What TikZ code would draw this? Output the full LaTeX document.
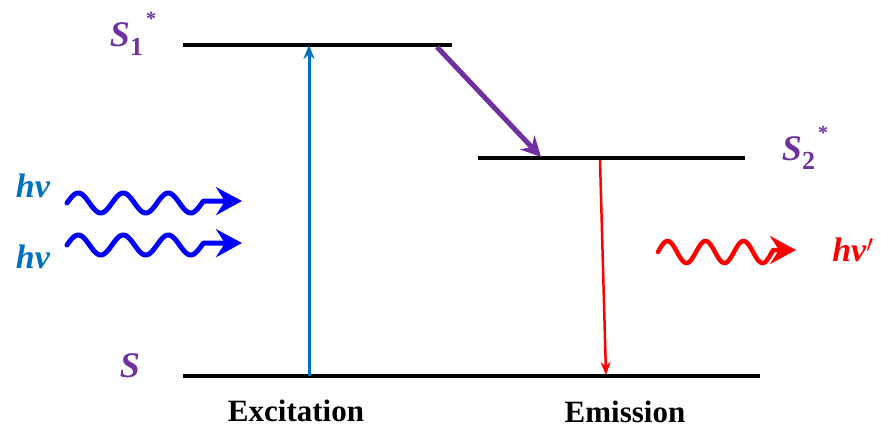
\documentclass[tikz,border=0pt]{standalone}
\usepackage{fontspec}
\setmainfont{Liberation Serif}
\usetikzlibrary{arrows.meta}
\definecolor{levpurple}{RGB}{112,48,160}
\definecolor{exblue}{RGB}{0,112,192}
\definecolor{waveblue}{RGB}{0,0,255}
\definecolor{emred}{RGB}{255,0,0}
\tikzset{
  level/.style={line width=3.2pt, black},
  statelabel/.style={text=levpurple, font=\fontsize{36}{36}\selectfont\bfseries\itshape, inner sep=0pt},
  hvlabel/.style={font=\fontsize{34}{34}\selectfont\bfseries\itshape, inner sep=0pt},
  caption/.style={font=\fontsize{31}{31}\selectfont\bfseries, inner sep=0pt},
  wave/.style={line width=5pt, line cap=round, line join=round, -{Stealth[length=26pt,width=28pt,inset=9pt]}},
}
\begin{document}
\begin{tikzpicture}[x=1pt,y=-1pt]
\useasboundingbox (0,0) rectangle (881,429);
% levels
\coordinate (s1l) at (183,45);
\coordinate (s1r) at (452,45);
\coordinate (s2l) at (478,158);
\coordinate (s2r) at (745,158);
\coordinate (s0l) at (183,376);
\coordinate (s0r) at (760,376);
\draw[level] (s1l) -- (s1r);
\draw[level] (s2l) -- (s2r);
\draw[level, line width=4.2pt] (s0l) -- (s0r);
% labels
\node[statelabel] (S1) at (133,34) {S\raisebox{-0.25em}{\fontsize{26}{26}\selectfont\upshape 1}\hspace{3pt}\raisebox{0.6em}{\fontsize{20}{20}\selectfont\upshape *}};
\node[statelabel] (S2) at (805,148) {S\raisebox{-0.25em}{\fontsize{26}{26}\selectfont\upshape 2}\hspace{3pt}\raisebox{0.6em}{\fontsize{20}{20}\selectfont\upshape *}};
\node[statelabel] (S0) at (130,366) {S};
% transitions
\coordinate (exA) at (309,376);
\coordinate (exB) at (309,45);
\draw[exblue, line width=3pt, -{Stealth[length=14pt,width=11pt]}] (exA) -- (exB);
\coordinate (nrA) at (437,47);
\coordinate (nrB) at (541,157);
\draw[levpurple, line width=5pt, -{Stealth[length=20pt,width=20pt]}] (nrA) -- (nrB);
\coordinate (emA) at (600,160);
\coordinate (emB) at (606,375);
\draw[emred, line width=2.5pt, -{Stealth[length=13pt,width=10pt]}] (emA) -- (emB);
% photons in
\node[hvlabel, text=exblue] (hv1) at (33,186) {hv};
\node[hvlabel, text=exblue] (hv2) at (33,257) {hv};
\coordinate (w1t) at (242,201);
\coordinate (w2t) at (242,243);
\draw[wave, waveblue] plot[domain=0:3.03, samples=120, variable=\t] ({67+45*\t},{203-10*sin(360*\t)}) -- (w1t);
\draw[wave, waveblue] plot[domain=0:3.03, samples=120, variable=\t] ({67+45*\t},{245-10*sin(360*\t)}) -- (w2t);
% photon out
\coordinate (w3t) at (796,250);
\draw[wave, emred, line width=4.5pt] plot[domain=0:3.03, samples=120, variable=\t] ({658+38*\t},{252-11*sin(360*\t)}) -- (w3t);
\node[hvlabel, text=emred] (hv3) at (853,250) {hv$'$};
% captions
\node[caption] (exc) at (296,411) {Excitation};
\node[caption] (emi) at (625,412) {Emission};
\end{tikzpicture}
\end{document}
